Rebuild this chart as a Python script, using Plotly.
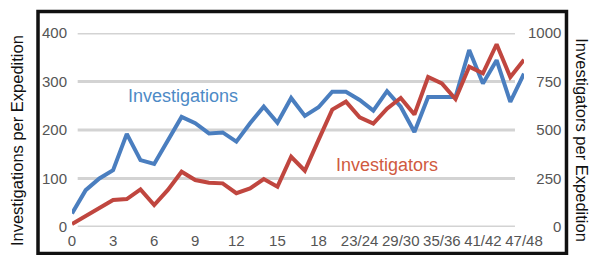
import plotly.graph_objects as go

# ---- data ----
expeditions = ["0", "1", "2", "3", "4", "5", "6", "7", "8", "9", "10", "11", "12",
               "13", "14", "15", "16", "17", "18", "19/20", "21/22", "23/24", "25/26",
               "27/28", "29/30", "31/32", "33/34", "35/36", "37/38", "39/40", "41/42",
               "43/44", "45/46", "47/48"]
investigations = [28, 76, 100, 117, 192, 138, 130, 178, 227, 214, 193, 195, 176, 214,
                  248, 215, 266, 229, 247, 279, 279, 262, 240, 280, 248, 196, 268, 268,
                  268, 365, 296, 344, 258, 316]
investigators = [15, 57, 96, 139, 144, 194, 113, 191, 285, 242, 228, 225, 174, 199,
                 247, 208, 362, 290, 449, 605, 646, 565, 533, 610, 665, 580, 773, 740,
                 660, 826, 792, 942, 773, 862]
x_tick_labels = ["0", "3", "6", "9", "12", "15", "18", "23/24", "29/30", "35/36", "41/42", "47/48"]
left_ticks = [0, 100, 200, 300, 400]
right_ticks = [0, 250, 500, 750, 1000]

BLUE = "#4a7ebf"
RED = "#c0463f"
FONT = "Liberation Sans"

idx = list(range(len(expeditions)))
x_tick_idx = [expeditions.index(lbl) for lbl in x_tick_labels]

fig = go.Figure()
fig.add_trace(go.Scatter(x=idx, y=investigators, mode="lines", yaxis="y2",
                         line=dict(color=RED, width=4), name="Investigators",
                         hoverinfo="skip"))
fig.add_trace(go.Scatter(x=idx, y=investigations, mode="lines", yaxis="y",
                         line=dict(color=BLUE, width=4), name="Investigations",
                         hoverinfo="skip"))

# right tick labels right-aligned with figure spaces
width_max = max(len(str(v)) for v in right_ticks)
right_text = ["\u2007" * (width_max - len(str(v))) + str(v) for v in right_ticks]

tickfont = dict(family=FONT, size=15, color="#555555")

fig.update_layout(
    width=592, height=255,
    margin=dict(l=72, r=68, t=33, b=28, autoexpand=False),
    paper_bgcolor="white", plot_bgcolor="white",
    showlegend=False,
    xaxis=dict(range=[0, len(expeditions) - 1], tickmode="array",
               tickvals=x_tick_idx, ticktext=x_tick_labels, showgrid=False,
               zeroline=False, showline=False, ticks="", tickfont=tickfont,
               ticklabelstandoff=3, automargin=False),
    yaxis=dict(range=[0, 400], tickmode="array", tickvals=left_ticks,
               showgrid=False, zeroline=False, showline=False, ticks="",
               tickfont=tickfont, ticklabelstandoff=4, automargin=False),
    yaxis2=dict(range=[0, 1000], overlaying="y", side="right", tickmode="array",
                tickvals=right_ticks, ticktext=right_text, showgrid=False,
                zeroline=False, showline=False, ticks="", tickfont=tickfont,
                ticklabelstandoff=3, automargin=False),
)

# gridlines (left-axis tick values)
for v in left_ticks:
    fig.add_shape(type="line", xref="paper", yref="y", x0=0.0126, x1=0.98, y0=v, y1=v,
                  line=dict(color="#d3d3d3", width=3), layer="below")

# black frame around the chart
fig.add_shape(type="rect", xref="paper", yref="paper", x0=-0.0752, x1=1.094,
              y0=-0.1366, y1=1.1108, line=dict(color="#111111", width=3.5),
              fillcolor="rgba(0,0,0,0)", layer="above")

# series labels
fig.add_annotation(text="Investigations", xref="paper", yref="paper", x=0.2445, y=0.675,
                   showarrow=False, xanchor="center", yanchor="middle",
                   font=dict(family=FONT, size=18, color="#4d8ac6"))
fig.add_annotation(text="Investigators", xref="paper", yref="paper", x=0.697, y=0.32,
                   showarrow=False, xanchor="center", yanchor="middle",
                   font=dict(family=FONT, size=18, color="#d05a40"))

# axis titles
fig.add_annotation(text="Investigations per Expedition", xref="paper", yref="paper",
                   x=-0.1217, y=0.448, textangle=-90, showarrow=False,
                   xanchor="center", yanchor="middle",
                   font=dict(family=FONT, size=16.5, color="#111111"))
fig.add_annotation(text="Investigators per Expedition", xref="paper", yref="paper",
                   x=1.128, y=0.448, textangle=90, showarrow=False,
                   xanchor="center", yanchor="middle",
                   font=dict(family=FONT, size=16.5, color="#111111"))

fig.write_html("out.html", config={"displayModeBar": False},
               post_script="document.body.style.margin='0';document.body.style.overflow='hidden';")
